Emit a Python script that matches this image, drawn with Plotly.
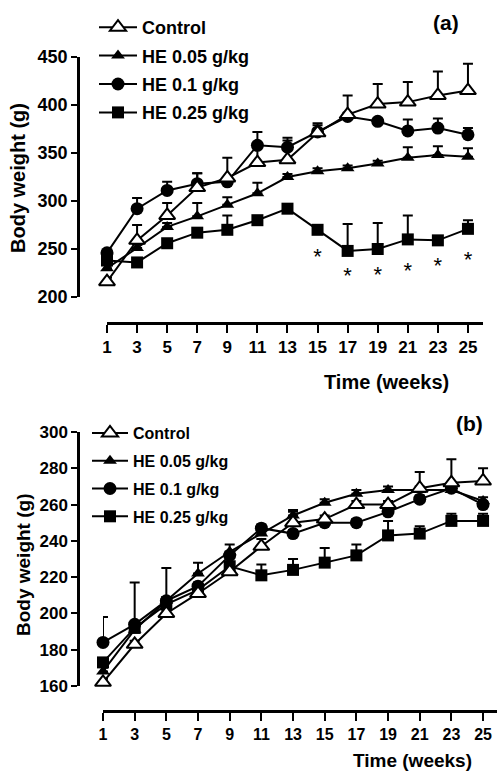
import plotly.graph_objects as go

W, H = 497, 771

weeks = [1, 3, 5, 7, 9, 11, 13, 15, 17, 19, 21, 23, 25]
series_names = ["Control", "HE 0.05 g/kg", "HE 0.1 g/kg", "HE 0.25 g/kg"]

# Panel (a)
a_control = [216, 259, 285, 314, 324, 340, 343, 371, 390, 401, 403, 410, 415]
a_control_err = [4, 16, 13, 15, 21, 20, 20, 10, 20, 21, 21, 25, 28]
a_he005 = [230, 251, 273, 284, 296, 308, 325, 331, 334, 339, 345, 348, 346]
a_he005_err = [3, 4, 4, 14, 8, 11, 3, 3, 3, 3, 11, 9, 9]
a_he01 = [246, 292, 311, 318, 320, 358, 356, 372, 388, 383, 373, 376, 369]
a_he01_err = [3, 11, 9, 11, 3, 14, 10, 7, 4, 3, 12, 10, 7]
a_he025 = [238, 236, 256, 267, 270, 280, 292, 270, 248, 250, 260, 259, 271]
a_he025_err = [3, 3, 3, 3, 15, 3, 3, 3, 28, 27, 25, 3, 9]
a_star_weeks = [15, 17, 19, 21, 23, 25]
a_star_y = [240, 220, 221, 226, 231, 237]

# Panel (b)
b_control = [162, 183, 200, 211, 223, 237, 250, 252, 260, 260, 269, 272, 273]
b_control_err = [2, 2, 2, 2, 2, 4, 7, 2, 2, 2, 9, 13, 7]
b_he005 = [168, 191, 207, 222, 234, 244, 254, 261, 266, 268, 268, 268, 262]
b_he005_err = [2, 2, 2, 6, 4, 2, 2, 2, 2, 2, 2, 2, 2]
b_he01 = [184, 194, 207, 215, 232, 247, 244, 250, 250, 256, 263, 269, 260]
b_he01_err = [14, 23, 18, 2, 2, 2, 2, 2, 2, 2, 2, 2, 2]
b_he025 = [173, 192, 205, 213, 226, 221, 224, 228, 232, 243, 244, 251, 251]
b_he025_err = [2, 2, 2, 2, 2, 6, 6, 8, 6, 8, 4, 4, 4]

a_yticks = [200, 250, 300, 350, 400, 450]
b_yticks = [160, 180, 200, 220, 240, 260, 280, 300]


def fx(px):
    return px / W


def fy(py):
    return 1 - py / H


FONT = "Liberation Sans, Arial, sans-serif"
styles = {
    "Control": dict(symbol="triangle-up", size=14, color="white", line=dict(width=2, color="black")),
    "HE 0.05 g/kg": dict(symbol="triangle-up", size=12, color="black", line=dict(width=0)),
    "HE 0.1 g/kg": dict(symbol="circle", size=13, color="black", line=dict(width=0)),
    "HE 0.25 g/kg": dict(symbol="square", size=12, color="black", line=dict(width=0)),
}

fig = go.Figure()

panels = [
    ("x", "y", "legend", [a_control, a_he005, a_he01, a_he025],
     [a_control_err, a_he005_err, a_he01_err, a_he025_err]),
    ("x2", "y2", "legend2", [b_control, b_he005, b_he01, b_he025],
     [b_control_err, b_he005_err, b_he01_err, b_he025_err]),
]

draw_order = [3, 2, 1, 0]
for xa, ya, leg, vals, errs in panels:
    for i in draw_order:
        name = series_names[i]
        st = styles[name]
        fig.add_trace(go.Scatter(
            x=weeks, y=vals[i], name=name, mode="lines+markers",
            xaxis=xa, yaxis=ya, legend=leg, legendrank=i + 1,
            legendgroup=f"{leg}_{i}",
            line=dict(color="black", width=2),
            marker=dict(symbol=st["symbol"], size=st["size"], color=st["color"], line=st["line"]),
            error_y=dict(type="data", symmetric=False, array=errs[i],
                         arrayminus=[0] * len(weeks), color="black",
                         thickness=2, width=5),
            cliponaxis=False,
        ))

fig.add_trace(go.Scatter(
    x=a_star_weeks, y=a_star_y, mode="text", text=["*"] * len(a_star_weeks),
    textfont=dict(family=FONT, size=22, color="black"),
    xaxis="x", yaxis="y", showlegend=False, cliponaxis=False,
))

axis_common = dict(
    showline=True, linecolor="black", linewidth=2.5, ticks="outside",
    tickcolor="black", tickwidth=2, showgrid=False, zeroline=False,
    automargin=False,
)
tick_font = dict(family=FONT, color="black", weight="bold")

fig.update_layout(
    width=W, height=H, margin=dict(l=0, r=0, t=0, b=0, autoexpand=False),
    paper_bgcolor="white", plot_bgcolor="white",
    font=dict(family=FONT, color="black"),
    xaxis=dict(domain=[fx(107), fx(483)], range=[1, 26], anchor="free",
               position=fy(323), tickvals=weeks, ticklen=8,
               tickfont=dict(size=17, **tick_font), **axis_common),
    yaxis=dict(domain=[fy(297), fy(57)], range=[200, 450], anchor="free",
               position=fx(78), tickvals=a_yticks, ticklen=6,
               tickfont=dict(size=18, **tick_font), **axis_common),
    xaxis2=dict(domain=[fx(103), 1], range=[1, 25.88], anchor="free",
                position=fy(711), tickvals=weeks, ticklen=8,
                tickfont=dict(size=16, **tick_font), **axis_common),
    yaxis2=dict(domain=[fy(686), fy(432)], range=[160, 300], anchor="free",
                position=fx(78), tickvals=b_yticks, ticklen=6,
                tickfont=dict(size=17, **tick_font), **axis_common),
    legend=dict(x=fx(94), y=fy(9), xanchor="left", yanchor="top",
                bgcolor="rgba(0,0,0,0)", traceorder="grouped",
                tracegroupgap=2, itemwidth=38,
                font=dict(family=FONT, size=18, color="black", weight="bold")),
    legend2=dict(x=fx(87), y=fy(416), xanchor="left", yanchor="top",
                 bgcolor="rgba(0,0,0,0)", traceorder="grouped",
                 tracegroupgap=4, itemwidth=36,
                 font=dict(family=FONT, size=16, color="black", weight="bold")),
    showlegend=True,
)

ann_font = dict(family=FONT, color="black", weight="bold")


def label(px, py, text, size, angle=0):
    fig.add_annotation(x=fx(px), y=fy(py), xref="paper", yref="paper",
                       xanchor="center", yanchor="middle",
                       text=text, textangle=angle, showarrow=False,
                       font=dict(size=size, **ann_font))


label(18, 178, "Body weight (g)", 20, -90)
label(23, 565, "Body weight (g)", 19, -90)
label(386, 382, "Time (weeks)", 20)
label(412, 760, "Time (weeks)", 19)
label(446, 22, "(a)", 21)
label(469, 423, "(b)", 21)

fig.write_html("out.html")
